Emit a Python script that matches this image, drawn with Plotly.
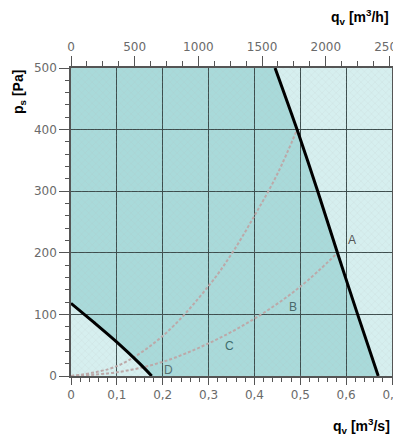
import plotly.graph_objects as go

# ---- data ----
q_range = [0, 0.7]            # m3/s
p_range = [0, 500]            # Pa
qh_range = [0, 2520]          # m3/h (0.7 m3/s)

x_tickvals = [0, 0.1, 0.2, 0.3, 0.4, 0.5, 0.6, 0.7]
x_ticktext = ["0", "0,1", "0,2", "0,3", "0,4", "0,5", "0,6", "0,7"]
y_tickvals = [0, 100, 200, 300, 400, 500]
top_tickvals = [0, 500, 1000, 1500, 2000, 2500]

# small fan curve (left black line)
small_q = [0.0, 0.05, 0.10, 0.15, 0.176]
small_p = [118, 87, 55, 20, 0]

# large fan curve (right black line)
big_q = [0.445, 0.493, 0.538, 0.581, 0.625, 0.670]
big_p = [500, 400, 300, 200, 100, 0]

# system curves (grey dashed)
sys1_q = [0.0, 0.1, 0.2, 0.3, 0.35, 0.4, 0.45, 0.493]
sys1_p = [0, 16, 65, 146, 198, 260, 328, 400]
sys2_q = [0.0, 0.1, 0.2, 0.3, 0.4, 0.5, 0.581]
sys2_p = [0, 6, 23, 53, 93, 145, 200]

labels = ["A", "B", "C", "D"]
label_q = [0.612, 0.484, 0.345, 0.212]
label_p = [221, 112, 49, 10]
label_colors = ["#555555", "#4a6a6a", "#3f6d6d", "#557070"]

# ---- figure ----
fig = go.Figure()

# dark working region (between the two fan curves) as a shape below the grid
pts = [(small_q[0], small_p[0]), (q_range[0], p_range[1])]
pts += list(zip(big_q, big_p))
pts += list(zip(small_q[::-1], small_p[::-1]))
path = "M " + " L ".join(f"{x},{y}" for x, y in pts) + " Z"
fig.add_shape(type="path", path=path, xref="x", yref="y", layer="below",
              fillcolor="#a9dada", line=dict(width=0))

# texture overlay
fig.add_trace(go.Scatter(
    x=[q_range[0], q_range[1], q_range[1], q_range[0], q_range[0]],
    y=[p_range[0], p_range[0], p_range[1], p_range[1], p_range[0]],
    fill="toself", mode="none", hoverinfo="skip", showlegend=False,
    fillpattern=dict(shape="x", fgcolor="rgba(175,175,175,0.6)",
                     bgcolor="rgba(0,0,0,0)", size=5, solidity=0.15),
))

fig.add_trace(go.Scatter(x=sys1_q, y=sys1_p, mode="lines", line_shape="spline",
                         line=dict(color="#bca9a9", width=2, dash="3px,2px"),
                         hoverinfo="skip", showlegend=False))
fig.add_trace(go.Scatter(x=sys2_q, y=sys2_p, mode="lines", line_shape="spline",
                         line=dict(color="#bca9a9", width=2, dash="3px,2px"),
                         hoverinfo="skip", showlegend=False))
fig.add_trace(go.Scatter(x=small_q, y=small_p, mode="lines",
                         line=dict(color="black", width=3, shape="spline", smoothing=0.8),
                         hoverinfo="skip", showlegend=False))
fig.add_trace(go.Scatter(x=big_q, y=big_p, mode="lines",
                         line=dict(color="black", width=3, shape="spline", smoothing=0.8),
                         hoverinfo="skip", showlegend=False))

# invisible trace to activate the top axis
fig.add_trace(go.Scatter(x=qh_range, y=[0, 0], xaxis="x2", mode="markers",
                         marker=dict(opacity=0), hoverinfo="skip", showlegend=False))

for t, xq, yp, c in zip(labels, label_q, label_p, label_colors):
    fig.add_annotation(x=xq, y=yp, text=t, showarrow=False,
                       font=dict(size=12, color=c, family="Liberation Sans, Arial"))

tickfont = dict(family="DejaVu Sans", size=12, color="#6a6a6a")
axis_common = dict(showline=True, linecolor="#555555", linewidth=1.5,
                   ticks="outside", tickcolor="#555555", tickwidth=1,
                   tickfont=tickfont, zeroline=False, automargin=False,
                   ticklabeloverflow="allow")

# page body has an 8px margin, so the figure sits at (8, 8) in the window
fig.update_layout(
    width=393, height=434,
    margin=dict(l=63, r=9, t=60, b=66),
    paper_bgcolor="white",
    plot_bgcolor="#d6efef",
    showlegend=False,
    xaxis=dict(range=q_range, tickvals=x_tickvals, ticktext=x_ticktext,
               ticklen=7, showgrid=True, gridcolor="#3d4d4d", gridwidth=1.3,
               mirror=False,
               minor=dict(dtick=0.02, ticks="outside", ticklen=4,
                          tickcolor="#555555", showgrid=False),
               **axis_common),
    xaxis2=dict(range=qh_range, overlaying="x", side="top", tickvals=top_tickvals,
                ticklen=10, showgrid=False,
                minor=dict(dtick=125, ticks="outside", ticklen=5,
                           tickcolor="#555555", showgrid=False),
                **axis_common),
    yaxis=dict(range=p_range, tickvals=y_tickvals, ticklen=10,
               showgrid=True, gridcolor="#3d4d4d", gridwidth=1.3, mirror=True,
               minor=dict(dtick=20, ticks="outside", ticklen=4,
                          tickcolor="#555555", showgrid=False),
               **axis_common),
)

title_font = dict(family="Liberation Sans, Arial", size=14, color="black")
fig.add_annotation(xref="paper", yref="paper", x=(360 - 71) / 321, y=(376 - 17) / 308,
                   xanchor="center", yanchor="middle",
                   text="<b>q<sub>v</sub> [m<sup>3</sup>/h]</b>", showarrow=False,
                   font=title_font)
fig.add_annotation(xref="paper", yref="paper", x=(361 - 71) / 321, y=(376 - 426) / 308,
                   xanchor="center", yanchor="middle",
                   text="<b>q<sub>v</sub> [m<sup>3</sup>/s]</b>", showarrow=False,
                   font=title_font)
fig.add_annotation(xref="paper", yref="paper", x=(19 - 71) / 321, y=(376 - 92) / 308,
                   xanchor="center", yanchor="middle",
                   text="<b>p<sub>s</sub> [Pa]</b>", showarrow=False, textangle=-90,
                   font=title_font)

fig.write_html("out.html")
